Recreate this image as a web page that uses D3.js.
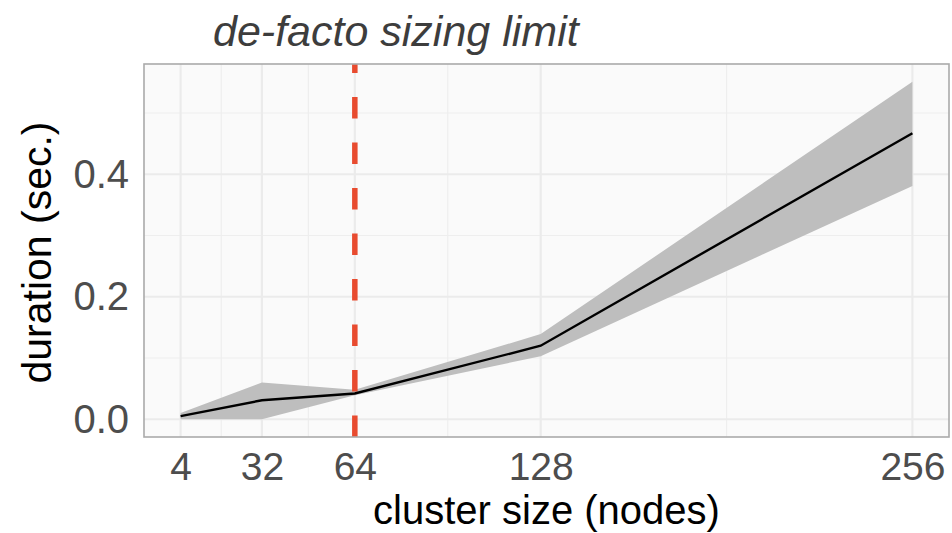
<!DOCTYPE html>
<html>
<head>
<meta charset="utf-8">
<script src="https://cdn.jsdelivr.net/npm/d3@7"></script>
<style>
  body { margin: 0; background: #fff; }
  text { font-family: "Liberation Sans", Arial, Helvetica, sans-serif; }
</style>
</head>
<body>
<div id="chart"></div>
<script>
// data
var sizes = [4, 32, 64, 128, 256];
var durMean = [0.005, 0.031, 0.042, 0.120, 0.467];
var durLow = [0.000, 0.000, 0.039, 0.103, 0.381];
var durHigh = [0.010, 0.060, 0.048, 0.139, 0.551];
var xBreaks = [4, 32, 64, 128, 256];
var xMinor = [18, 48, 96, 192];
var yBreaks = [0.0, 0.2, 0.4];
var yMinor = [0.1, 0.3, 0.5];
var limitAt = 64;
var titleText = "de-facto sizing limit";

var W = 952, H = 533;
var panel = {left: 144, right: 949, top: 64, bottom: 437};

var svg = d3.select("#chart").append("svg")
    .attr("width", W)
    .attr("height", H);

var x = d3.scaleLinear().domain([-8.6, 268.6]).range([panel.left, panel.right]);
var y = d3.scaleLinear().domain([-0.029, 0.580]).range([panel.bottom, panel.top]);

var rows = sizes.map(function(s, i){
    return {s: s, m: durMean[i], lo: durLow[i], hi: durHigh[i]};
});

// panel background
svg.append("rect")
    .attr("x", panel.left).attr("y", panel.top)
    .attr("width", panel.right - panel.left)
    .attr("height", panel.bottom - panel.top)
    .attr("fill", "#fafafa");

// grid
var grid = svg.append("g");
grid.selectAll("line.ym").data(yMinor).enter().append("line")
    .attr("x1", panel.left).attr("x2", panel.right)
    .attr("y1", function(d){ return y(d); })
    .attr("y2", function(d){ return y(d); })
    .attr("stroke", "#eeeeee").attr("stroke-width", 1.2);
grid.selectAll("line.xm").data(xMinor).enter().append("line")
    .attr("y1", panel.top).attr("y2", panel.bottom)
    .attr("x1", function(d){ return x(d); })
    .attr("x2", function(d){ return x(d); })
    .attr("stroke", "#eeeeee").attr("stroke-width", 1.2);
grid.selectAll("line.yM").data(yBreaks).enter().append("line")
    .attr("x1", panel.left).attr("x2", panel.right)
    .attr("y1", function(d){ return y(d); })
    .attr("y2", function(d){ return y(d); })
    .attr("stroke", "#ebebeb").attr("stroke-width", 2.2);
grid.selectAll("line.xM").data(xBreaks).enter().append("line")
    .attr("y1", panel.top).attr("y2", panel.bottom)
    .attr("x1", function(d){ return x(d); })
    .attr("x2", function(d){ return x(d); })
    .attr("stroke", "#ebebeb").attr("stroke-width", 2.2);

// ribbon
var area = d3.area()
    .x(function(d){ return x(d.s); })
    .y0(function(d){ return y(d.lo); })
    .y1(function(d){ return y(d.hi); });
svg.append("path").datum(rows)
    .attr("d", area)
    .attr("fill", "#bebebe");

// limit line, drawn bottom up so the dash pattern lines up with the axis
svg.append("line")
    .attr("x1", x(limitAt)).attr("x2", x(limitAt))
    .attr("y1", panel.bottom).attr("y2", panel.top)
    .attr("stroke", "#e84b2f")
    .attr("stroke-width", 5.5)
    .attr("stroke-dasharray", "21.5,24");

// mean line
var line = d3.line()
    .x(function(d){ return x(d.s); })
    .y(function(d){ return y(d.m); });
svg.append("path").datum(rows)
    .attr("d", line)
    .attr("fill", "none")
    .attr("stroke", "#000")
    .attr("stroke-width", 2.4);

// border
svg.append("rect")
    .attr("x", panel.left).attr("y", panel.top)
    .attr("width", panel.right - panel.left)
    .attr("height", panel.bottom - panel.top)
    .attr("fill", "none")
    .attr("stroke", "#aaaaaa")
    .attr("stroke-width", 1.6);

// axes
var xAxis = d3.axisBottom(x).tickValues(xBreaks).tickSize(0).tickPadding(15)
    .tickFormat(d3.format("d"));
var gx = svg.append("g")
    .attr("transform", "translate(0," + panel.bottom + ")")
    .call(xAxis);
gx.select(".domain").remove();
gx.selectAll("text")
    .attr("font-size", 39)
    .attr("font-family", "Liberation Sans, Arial, sans-serif")
    .attr("fill", "#4d4d4d");

var yAxis = d3.axisLeft(y).tickValues(yBreaks).tickSize(0).tickPadding(15)
    .tickFormat(d3.format(".1f"));
var gy = svg.append("g")
    .attr("transform", "translate(" + panel.left + ",0)")
    .call(yAxis);
gy.select(".domain").remove();
gy.selectAll("text")
    .attr("font-size", 40)
    .attr("font-family", "Liberation Sans, Arial, sans-serif")
    .attr("fill", "#4d4d4d");

// titles
svg.append("text")
    .attr("x", (panel.left + panel.right) / 2)
    .attr("y", 524)
    .attr("text-anchor", "middle")
    .attr("font-size", 40)
    .attr("fill", "#000")
    .text("cluster size (nodes)");

svg.append("text")
    .attr("transform", "translate(51," + ((panel.top + panel.bottom) / 2 + 2) + ") rotate(-90)")
    .attr("text-anchor", "middle")
    .attr("font-size", 41)
    .attr("fill", "#000")
    .text("duration (sec.)");

svg.append("text")
    .attr("x", 213)
    .attr("y", 46)
    .attr("font-size", 43)
    .attr("font-style", "italic")
    .attr("fill", "#3d3d3d")
    .text(titleText);
</script>
</body>
</html>
